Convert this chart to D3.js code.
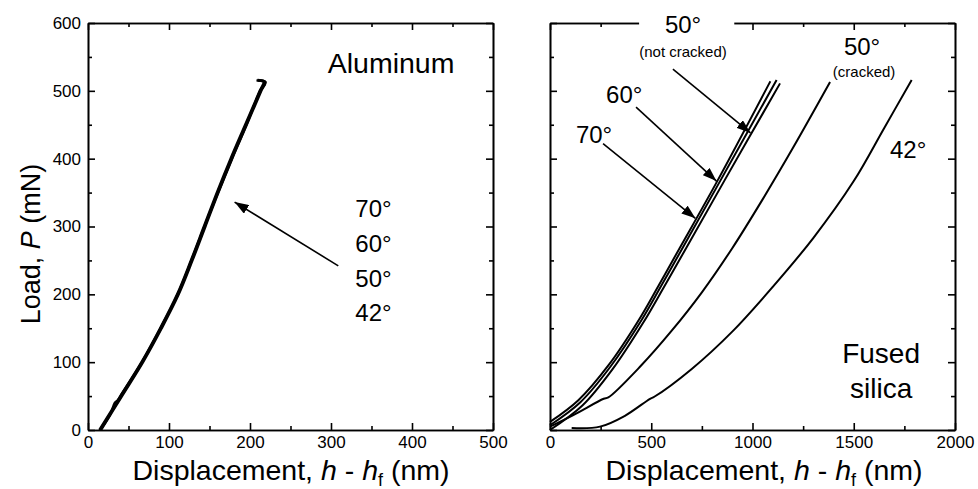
<!DOCTYPE html>
<html>
<head>
<meta charset="utf-8">
<script src="https://cdn.jsdelivr.net/npm/d3@7"></script>
<style>
  body { margin: 0; background: #fff; }
  text { font-family: "Liberation Sans", Arial, sans-serif; fill: #000; }
  .axis path, .axis line { stroke: #000; stroke-width: 1.6; }
  .axis text { font-size: 17px; font-family: "Liberation Sans", Arial, sans-serif; }
</style>
</head>
<body>
<div id="chart"></div>
<script>
// ---- data: load P (mN) vs displacement h - hf (nm) ----
// aluminum, four cone angles (curves lie on top of each other)
const alum70 = [[16,0],[42,50],[68,100],[91,150],[112,200],[129,250],[145,300],[161,350],[178,400],[196,450],[214,500],[219,513],[210,515]];
const alum60 = [[15,0],[41,50],[67,100],[90,150],[111,200],[128,250],[144,300],[160,350],[177,400],[195,450],[213,500],[218,512],[209,516]];
const alum50 = [[14,0],[40,50],[66,100],[89,150],[110,200],[127,250],[143,300],[159,350],[176,400],[194,450],[212,500],[217,514],[208,515]];
const alum42 = [[15,0],[28,24],[33,40],[37,44],[40,50],[67,101],[90,151],[111,201],[128,251],[144,301],[161,351],[178,401],[196,451],[213,501],[219,513],[210,516]];

// fused silica
const fs70 = [[0,12],[140,44],[290,96],[440,163],[540,215],[640,268],[828,368],[1088,514]];
const fs60 = [[0,7],[150,41],[300,94],[450,161],[550,213],[654,268],[842,368],[1119,516]];
const fs50 = [[0,0],[160,36],[310,90],[460,158],[565,212],[672,268],[862,368],[1136,511]];
const fs50cracked = [[0,5],[115,22],[265,46],[288,48],[450,95],[600,146],[750,203],[900,268],[1050,340],[1200,416],[1383,513]];
const fs42 = [[107,3],[247,5],[370,21],[494,46],[515,49],[700,90],[900,145],[1100,211],[1300,283],[1500,367],[1650,445],[1786,516]];

// axis ticks
const yMajor = [0,100,200,300,400,500,600];
const yMinor = [50,150,250,350,450,550];
const xMajorAl = [0,100,200,300,400,500];
const xMinorAl = [50,150,250,350,450];
const xMajorFs = [0,500,1000,1500,2000];
const xMinorFs = [250,750,1250,1750];

// annotations (data units)
const alumAngles = ["70°","60°","50°","42°"];
const alumAngleP = [314,263,211,160];
const alumArrow = {from:[309,242], to:[181,336]};
const fsArrows = [
  {from:[607,532], to:[990,438]},
  {from:[425,476], to:[822,367]},
  {from:[262,422], to:[718,312]}
];

const width = 978, height = 489;
const top_ = 23, bottom_ = 430;

const svg = d3.select("#chart").append("svg")
  .attr("width", width).attr("height", height);

svg.append("defs").append("marker")
  .attr("id","head").attr("viewBox","0 0 10 10")
  .attr("refX",10).attr("refY",5)
  .attr("markerWidth",14).attr("markerHeight",10)
  .attr("markerUnits","userSpaceOnUse")
  .attr("orient","auto")
  .attr("preserveAspectRatio","none")
  .append("path").attr("d","M0,0 L10,5 L0,10 Z").attr("fill","#000");

function setupPanel(x0, x1, xMax, xMajor, xMinor, showYLabels){
  let x = d3.scaleLinear().domain([0,xMax]).range([x0,x1]);
  let y = d3.scaleLinear().domain([0,600]).range([bottom_,top_]);
  let g = svg.append("g");
  drawAxes(g, x, y, xMajor, xMinor, showYLabels);
  return {g:g, x:x, y:y};
}

function drawAxes(g, x, y, xMajor, xMinor, showYLabels){
  // bottom
  g.append("g").attr("class","axis").attr("transform","translate(0,"+bottom_+")")
    .call(d3.axisBottom(x).tickValues(xMajor).tickSize(-7).tickSizeOuter(0).tickPadding(6).tickFormat(d3.format("d")));
  g.append("g").attr("class","axis").attr("transform","translate(0,"+bottom_+")")
    .call(d3.axisBottom(x).tickValues(xMinor).tickSize(-4).tickSizeOuter(0).tickFormat(""));
  // top
  g.append("g").attr("class","axis").attr("transform","translate(0,"+top_+")")
    .call(d3.axisTop(x).tickValues(xMajor).tickSize(-7).tickSizeOuter(0).tickFormat(""));
  g.append("g").attr("class","axis").attr("transform","translate(0,"+top_+")")
    .call(d3.axisTop(x).tickValues(xMinor).tickSize(-4).tickSizeOuter(0).tickFormat(""));
  // left
  let left = d3.axisLeft(y).tickValues(yMajor).tickSize(-7).tickSizeOuter(0).tickPadding(7);
  if(!showYLabels) left.tickFormat("");
  g.append("g").attr("class","axis").attr("transform","translate("+x.range()[0]+",0)").call(left);
  g.append("g").attr("class","axis").attr("transform","translate("+x.range()[0]+",0)")
    .call(d3.axisLeft(y).tickValues(yMinor).tickSize(-4).tickSizeOuter(0).tickFormat(""));
  // right
  g.append("g").attr("class","axis").attr("transform","translate("+x.range()[1]+",0)")
    .call(d3.axisRight(y).tickValues(yMajor).tickSize(-7).tickSizeOuter(0).tickFormat(""));
  g.append("g").attr("class","axis").attr("transform","translate("+x.range()[1]+",0)")
    .call(d3.axisRight(y).tickValues(yMinor).tickSize(-4).tickSizeOuter(0).tickFormat(""));
}

function drawCurves(p, curves, w){
  let line = d3.line()
    .x(d => p.x(d[0]))
    .y(d => p.y(d[1]))
    .curve(d3.curveCatmullRom.alpha(0.5));
  p.g.selectAll("path.curve")
    .data(curves)
    .join("path")
      .attr("class","curve")
      .attr("d", line)
      .attr("fill","none")
      .attr("stroke","#000")
      .attr("stroke-width", w);
}

function drawArrow(p, a){
  p.g.append("line")
    .attr("x1", p.x(a.from[0])).attr("y1", p.y(a.from[1]))
    .attr("x2", p.x(a.to[0])).attr("y2", p.y(a.to[1]))
    .attr("stroke","#000").attr("stroke-width",1.6)
    .attr("marker-end","url(#head)");
}

function label(p, h, P, txt, size, anchor){
  return p.g.append("text")
    .attr("x", p.x(h)).attr("y", p.y(P))
    .attr("text-anchor", anchor || "start")
    .style("font-size", size+"px")
    .text(txt);
}

function xTitle(cx){
  let t = svg.append("text").attr("x",cx).attr("y",480)
    .attr("text-anchor","middle").style("font-size","28.5px");
  t.append("tspan").text("Displacement, ");
  t.append("tspan").style("font-style","italic").text("h");
  t.append("tspan").text(" - ");
  t.append("tspan").style("font-style","italic").text("h");
  t.append("tspan").attr("dy",6).style("font-size","18px").text("f");
  t.append("tspan").attr("dy",-6).text(" (nm)");
}

// ---- left panel: aluminum ----
let pa = setupPanel(88, 493, 500, xMajorAl, xMinorAl, true);
drawCurves(pa, [alum70, alum60, alum50, alum42], 2.4);
drawArrow(pa, alumArrow);
label(pa, 296, 526, "Aluminum", 28.5);
alumAngles.forEach((s,i) => label(pa, 330, alumAngleP[i], s, 24));

// ---- right panel: fused silica ----
let pf = setupPanel(550, 955, 2000, xMajorFs, xMinorFs, false);
drawCurves(pf, [fs70, fs60, fs50, fs50cracked, fs42], 2);
fsArrows.forEach(a => drawArrow(pf, a));
// gap in the top frame behind the label
pf.g.append("rect")
  .attr("x", pf.x(440)).attr("y", 8)
  .attr("width", pf.x(910) - pf.x(440)).attr("height", 26)
  .attr("fill","#fff");
label(pf, 657, 585, "50°", 24, "middle");
label(pf, 657, 550, "(not cracked)", 15, "middle");
label(pf, 277, 482, "60°", 24);
label(pf, 128, 423, "70°", 24);
label(pf, 1541, 553, "50°", 24, "middle");
label(pf, 1551, 520, "(cracked)", 15, "middle");
label(pf, 1679, 401, "42°", 24);
label(pf, 1635, 99, "Fused", 28, "middle");
label(pf, 1635, 47, "silica", 28, "middle");

// ---- axis titles ----
xTitle(291);
xTitle(764);
let yt = svg.append("text")
  .attr("transform","translate(40,244) rotate(-90)")
  .attr("text-anchor","middle").style("font-size","27px");
yt.append("tspan").text("Load, ");
yt.append("tspan").style("font-style","italic").text("P");
yt.append("tspan").text(" (mN)");
</script>
</body>
</html>
